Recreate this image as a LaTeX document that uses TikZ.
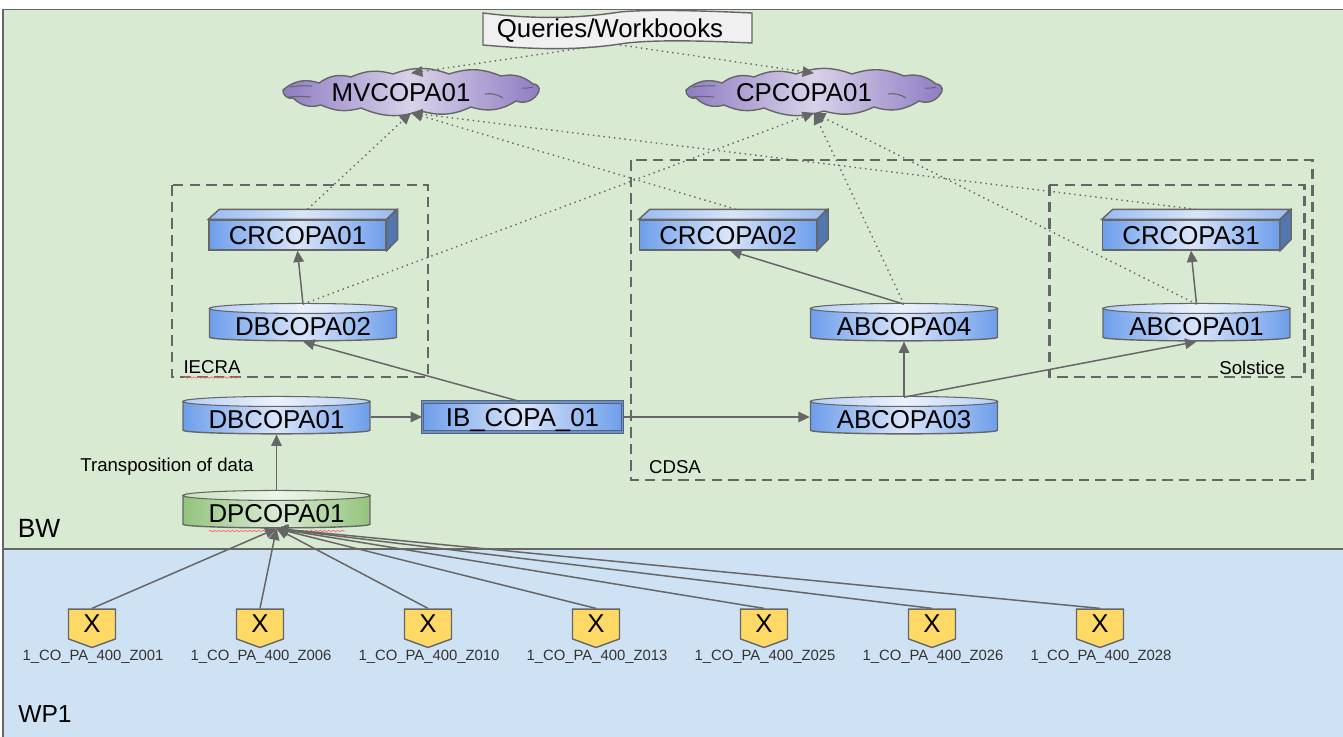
\documentclass[tikz,border=0pt]{standalone}
\usepackage{fontspec}
\setmainfont{Liberation Sans}
\usetikzlibrary{positioning,shapes,arrows.meta,calc,decorations.pathmorphing}
\definecolor{bwgreen}{HTML}{D9EAD3}
\definecolor{wpblue}{HTML}{CFE2F3}
\definecolor{edgegray}{HTML}{666666}
\definecolor{cubeblue}{HTML}{6D9EEB}
\definecolor{cubelight}{HTML}{DAE5F9}
\definecolor{dsgreen}{HTML}{93C47D}
\definecolor{dslight}{HTML}{D9EAD3}
\definecolor{mppurple}{HTML}{8E7CC3}
\definecolor{mplight}{HTML}{D9D2E9}
\definecolor{wsyellow}{HTML}{FFD966}
\tikzset{
        >={Triangle[length=6.5pt,width=6pt]},
        flow/.style={->,draw=edgegray,line width=0.85pt},
        link/.style={->,draw=edgegray,line width=0.8pt,dash pattern=on 0.8pt off 2.2pt},
        dashbox/.style={draw=edgegray,line width=1.7pt,dash pattern=on 6pt off 3.5pt},
        spell/.style={draw=red!60,line width=0.4pt,decorate,decoration={snake,amplitude=0.4pt,segment length=2.5pt}},
        db/.style={shape=cylinder,shape border rotate=90,shape aspect=0.053,draw=edgegray,line width=0.8pt,
                minimum width=3.74cm,minimum height=0.72cm,inner sep=0pt,font=\fontsize{14.7}{16}\selectfont,
                text height=12pt,text depth=0pt,
                left color=cubeblue,right color=cubeblue,middle color=cubelight},
        dp/.style={db,left color=dsgreen,right color=dsgreen,middle color=dslight},
        dbtop/.style={draw=edgegray,line width=0.6pt,left color=cubeblue!50!white,right color=cubeblue!50!white,middle color=cubelight!50!white},
        dptop/.style={draw=edgegray,line width=0.6pt,left color=dsgreen!50!white,right color=dsgreen!50!white,middle color=dslight!50!white},
        cube/.style={rectangle,draw=edgegray,line width=0.8pt,minimum width=3.54cm,minimum height=0.6cm,inner sep=0pt,
                font=\fontsize{14.7}{16}\selectfont,text height=11pt,text depth=0pt,
                left color=cubeblue,right color=cubeblue,middle color=cubelight},
        ibox/.style={cube,draw=edgegray!60!cubeblue!80!black,line width=0.6pt,double=cubeblue!75!edgegray,double distance=0.7pt,
                minimum width=4cm,minimum height=0.6cm},
        mp/.style={rectangle,minimum width=5.14cm,minimum height=0.78cm,inner sep=0pt,font=\fontsize{14.7}{16}\selectfont},
        ws/.style={signal,signal to=south,signal pointer angle=140,draw=edgegray,line width=0.8pt,fill=wsyellow,
                minimum width=0.94cm,minimum height=0.66cm,inner sep=0pt,font=\fontsize{14.7}{16}\selectfont},
        tag/.style={font=\fontsize{10.6}{12}\selectfont,inner sep=0pt},
        wslabel/.style={font=\fontsize{8.45}{10}\selectfont,text=black!80,inner sep=0pt},
        area/.style={font=\fontsize{15}{16}\selectfont,inner sep=0pt},
        pics/mpcloud/.style={code={
          \draw[draw=edgegray,line width=0.8pt,left color=mppurple,right color=mppurple,middle color=mplight]
            (-128,-2) to[bend left=30] (-92,-9) to[bend left=25] (-60,-15) to[bend left=20] (-18,-18)
            to[bend left=20] (38,-18) to[bend left=20] (90,-16) to[bend left=25] (122,-8) to[bend left=60] (128,-1)
            to[bend left=45] (105,9) to[bend left=25] (60,15) to[bend left=20] (10,19) to[bend left=20] (-50,16)
            to[bend left=20] (-90,13) to[bend left=30] (-118,6) to[bend left=60] cycle;
          \draw[draw=edgegray,line width=0.6pt] (-123,5) to[bend left=5] (-100,5) (-121,-5) to[bend left=5] (-99,-6)
            (74,2) to[bend left=20] (92,6) (111,-4) to[bend right=10] (122,-5);
        }},
}

\begin{document}
\begin{tikzpicture}[x=0.02cm,y=-0.02cm]
\useasboundingbox (0,0) rectangle (1343,737);
% areas
\draw[draw=edgegray,fill=bwgreen,line width=0.8pt] (3,9.5) rectangle (1345,549);
\draw[draw=edgegray,fill=wpblue,line width=0.8pt] (3,549) rectangle (1345,739);
\node[area] (bw) at (39,528) {BW};
\node[area,font=\fontsize{14}{16}\selectfont] (wp) at (45,714) {WP1};
% dashed groups
\draw[dashbox] (172,185) rectangle (428,377);
\draw[dashbox] (631,160) rectangle (1312,480);
\draw[dashbox] (1049,185) rectangle (1304,377);
\node[tag] (iecra) at (212,367) {IECRA};
\node[tag] (cdsa) at (675,467) {CDSA};
\node[tag] (solstice) at (1252,368) {Solstice};
\node[tag] (transp) at (167,467) {Transposition of data};
\draw[spell] (184,377.5) -- (240,377.5);

% queries
\draw[draw=edgegray,fill=black!6,line width=0.8pt] (483,13) .. controls (540,20) and (580,18) .. (620,12) .. controls (650,9) and (710,11) .. (752,13)
  -- (752,43) .. controls (710,41) and (650,39) .. (620,44) .. controls (580,50) and (540,50) .. (483,45) -- cycle;
\node[font=\fontsize{14.7}{16}\selectfont,inner sep=0pt] (queries) at (610,31) {Queries/Workbooks};
\coordinate (qleft) at (590,47);
\coordinate (qright) at (620,45);

% clouds
\pic at (411,92) {mpcloud};
\pic at (814,92) {mpcloud};
\node[mp] (mvcopa) at (411,93) {MVCOPA01\rule{0.4cm}{0pt}};
\node[mp] (cpcopa) at (814,93) {CPCOPA01\rule{0.4cm}{0pt}};

% cylinders and cubes
\node[db] (dbcopa02) at (303,325) {DBCOPA02};
\node[db] (dbcopa01) at (276.5,418) {DBCOPA01};
\node[dp] (dpcopa01) at (276.5,512) {DPCOPA01};
\node[db] (abcopa04) at (904,325) {ABCOPA04};
\node[db] (abcopa03) at (904,418) {ABCOPA03};
\node[db] (abcopa01) at (1196.5,325) {ABCOPA01};
\foreach \n/\t in {dbcopa02/dbtop,dbcopa01/dbtop,dpcopa01/dptop,abcopa04/dbtop,abcopa03/dbtop,abcopa01/dbtop}
  \path[\t] ($(\n.before top)!0.5!(\n.after top)$) ellipse (93.5 and 5);
\draw[spell] (209,531) -- (345,531);

\node[cube] (crcopa01) at (297.5,235) {CRCOPA01};
\node[cube] (crcopa02) at (728,235) {CRCOPA02};
\node[cube] (crcopa31) at (1191,235) {CRCOPA31};
\foreach \n in {crcopa01,crcopa02,crcopa31} {
  \draw[draw=edgegray,line width=0.8pt,left color=cubeblue!70!white,right color=cubeblue!70!white,middle color=cubelight] (\n.north west) -- ++(11,-10) -- ++(177,0) -- (\n.north east) -- cycle;
  \draw[draw=edgegray,line width=0.8pt,fill=cubeblue!75!black] (\n.north east) -- ++(11,-10) -- ++(0,30) -- (\n.south east) -- cycle;
}
\node[ibox] (ibcopa) at (522.5,417) {IB\_COPA\_01};

% web items
\foreach \x/\z in {92/001,260/006,428/010,596/013,764/025,932/026,1100/028} {
  \node[ws] (x\z) at (\x,624) {X};
  \node[wslabel] (label\z) at (\x+1,657) {1\_CO\_PA\_400\_Z\z};
  \draw[flow] (x\z.north) -- (dpcopa01.bottom);
}

% solid flows
\draw[flow] (dpcopa01.top) -- (dbcopa01.bottom);
\draw[flow] (dbcopa01.east |- ibcopa.west) -- (ibcopa.west);
\draw[flow] (ibcopa.east) -- (abcopa03.west |- ibcopa.east);
\draw[flow] ([xshift=-0.05cm]ibcopa.north) -- (dbcopa02.bottom);
\draw[flow] (dbcopa02.top) -- (crcopa01.south);
\draw[flow] (abcopa04.top) -- ([xshift=0.04cm]crcopa02.south);
\draw[flow] (abcopa03.top) -- (abcopa04.bottom);
\draw[flow] (abcopa03.top) -- (abcopa01.bottom);
\draw[flow] (abcopa01.top) -- (crcopa31.south);

% dotted links
\draw[link] (qleft) -- (mvcopa.north);
\draw[link] (qright) -- (cpcopa.north);
\draw[link] ([xshift=0.2cm]crcopa01.north) ++(0,-10) -- (mvcopa.south);
\draw[link] ([xshift=0.16cm]crcopa02.north) ++(0,-10) -- (mvcopa.south);
\draw[link] ([xshift=0.1cm]crcopa31.north) ++(0,-10) -- (mvcopa.south);
\draw[link] (dbcopa02.top) -- (cpcopa.south);
\draw[link] (abcopa04.top) -- (cpcopa.south);
\draw[link] (abcopa01.top) -- (cpcopa.south);
\end{tikzpicture}
\end{document}
